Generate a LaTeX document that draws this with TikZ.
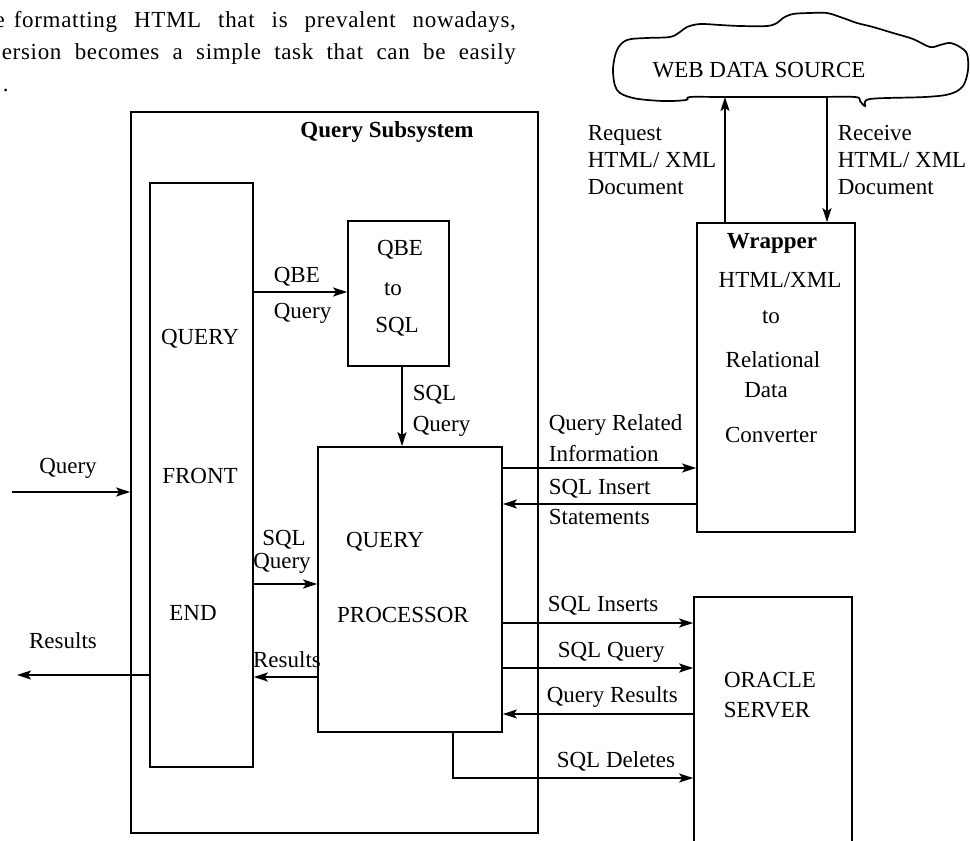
\documentclass[tikz,border=0pt]{standalone}
\usepackage{fontspec}
\setmainfont{Liberation Serif}
\newfontfamily\bodyfont[LetterSpace=3]{Liberation Serif}
\usetikzlibrary{arrows.meta}
\begin{document}
\begin{tikzpicture}[x=1pt,y=-1pt, line width=1.7pt, line join=miter,
  box/.style={draw, rectangle, inner sep=0pt},
  lbl/.style={inner sep=0pt, font=\fontsize{23}{27}\selectfont, align=left},
  bold/.style={inner sep=0pt, font=\fontsize{23}{27}\selectfont\bfseries},
  arr/.style={-{Stealth[length=14pt,width=9pt,inset=3pt]}},
  body/.style={inner sep=0pt, anchor=base west, font=\bodyfont\fontsize{23}{27}\selectfont}]
\useasboundingbox (0,0) rectangle (970,841);
\clip (0,0) rectangle (970,841);

% body text
\node[body] (t1) at (13,27) {\llap{e\hspace{9pt}}\makebox[502pt][s]{formatting HTML that is prevalent nowadays,}};
\node[body] (t2) at (1,59) {\makebox[514pt][s]{ersion becomes a simple task that can be easily}};
\node[body] (t3) at (2,91) {.};

% boxes
\node[box, minimum width=407pt, minimum height=721pt] (outer) at (334.5,472.5) {};
\node[box, minimum width=103pt, minimum height=584pt] (front) at (201.5,475) {};
\node[box, minimum width=101pt, minimum height=145pt] (qbe) at (398.5,293.5) {};
\node[box, minimum width=184pt, minimum height=285pt] (proc) at (410,589.5) {};
\node[box, minimum width=158pt, minimum height=309pt] (wrap) at (776,377.5) {};
\node[box, minimum width=158pt, minimum height=303pt] (oracle) at (773,748.5) {};

% cloud
\draw plot[smooth cycle, tension=0.55] coordinates {(627,40) (647,38) (670,37) (680,32) (687,27) (700,24) (720,25) (740,26) (767,26) (777,23) (783,18) (793,14) (810,13) (827,13) (843,18) (857,23) (873,27) (893,33) (913,39) (930,47) (940,45) (950,43) (960,47) (967,54) (968,70) (963,86) (950,94) (925,97) (870,99) (865,106) (860,101) (855,97) (813,97) (725,97) (690,97) (686,100) (663,101) (633,98) (617,90) (613,70) (617,50)};
\node[lbl] (web) at (759,70) {WEB DATA SOURCE};
\coordinate (cu) at (725,97);
\coordinate (cd) at (827,97);

% labels in boxes
\node[bold] (qs) at (387,132) {Query Subsystem};
\node[lbl] (fe1) at (200,339) {QUERY};
\node[lbl] (fe2) at (200,476) {FRONT};
\node[lbl] (fe3) at (193,613) {END};
\node[lbl] (q1) at (400,250) {QBE};
\node[lbl] (q2) at (393,289) {to};
\node[lbl] (q3) at (397,327) {SQL};
\node[lbl] (p1) at (385,542) {QUERY};
\node[lbl] (p2) at (403,615) {PROCESSOR};
\node[bold] (w1) at (772,243) {Wrapper};
\node[lbl] (w2) at (780,280) {HTML/XML};
\node[lbl] (w3) at (771,317) {to};
\node[lbl] (w4) at (773,360) {Relational};
\node[lbl] (w5) at (766,390) {Data};
\node[lbl] (w6) at (771,435) {Converter};
\node[lbl] (o1) at (770,680) {ORACLE};
\node[lbl] (o2) at (767,710) {SERVER};

% connector labels
\node[lbl, anchor=west] (lq1) at (273,277) {QBE};
\node[lbl, anchor=west] (lq2) at (273,313) {Query};
\node[lbl, anchor=west] (ls1) at (412,395) {SQL};
\node[lbl, anchor=west] (ls2) at (412,426) {Query};
\node[lbl] (lf1) at (284,540) {SQL};
\node[lbl] (lf2) at (282,563) {Query};
\node[lbl] (lr) at (287,660) {Results};
\node[lbl] (lin) at (68,468) {Query};
\node[lbl] (lout) at (63,641) {Results};
\node[lbl, anchor=west] (li1) at (548,425) {Query Related};
\node[lbl, anchor=west] (li2) at (548,454) {Information};
\node[lbl, anchor=west] (li3) at (548,489) {SQL Insert};
\node[lbl, anchor=west] (li4) at (548,517) {Statements};
\node[lbl, anchor=west] (lo1) at (547,606) {SQL Inserts};
\node[lbl, anchor=west] (lo2) at (557,652) {SQL Query};
\node[lbl, anchor=west] (lo3) at (546,697) {Query Results};
\node[lbl, anchor=west] (lo4) at (556,761) {SQL Deletes};
\node[lbl, anchor=west] (lreq) at (587,160) {Request\\HTML/ XML\\Document};
\node[lbl, anchor=west] (lrec) at (837,160) {Receive\\HTML/ XML\\Document};

% helper coordinates
\coordinate (y1) at (0,292);
\coordinate (x1) at (402,0);
\coordinate (y2) at (0,584);
\coordinate (y3) at (0,677);
\coordinate (y4) at (0,492);
\coordinate (y5) at (0,675);
\coordinate (y6) at (0,468);
\coordinate (y7) at (0,504);
\coordinate (y8) at (0,623);
\coordinate (y9) at (0,668);
\coordinate (y10) at (0,714);
\coordinate (y11) at (0,778);
\coordinate (x2) at (453,0);
\coordinate (qin) at (12,492);
\coordinate (rout) at (17,675);
\coordinate (del) at (453,778);

% connectors
\draw[arr] (front.east |- y1) -- (qbe.west |- y1);
\draw[arr] (qbe.south -| x1) -- (proc.north -| x1);
\draw[arr] (front.east |- y2) -- (proc.west |- y2);
\draw[arr] (proc.west |- y3) -- (front.east |- y3);
\draw[arr] (qin) -- (outer.west |- y4);
\draw[arr] (front.west |- y5) -- (rout);
\draw[arr] (proc.east |- y6) -- (wrap.west |- y6);
\draw[arr] (wrap.west |- y7) -- (proc.east |- y7);
\draw[arr] (proc.east |- y8) -- (oracle.west |- y8);
\draw[arr] (proc.east |- y9) -- (oracle.west |- y9);
\draw[arr] (oracle.west |- y10) -- (proc.east |- y10);
\draw[arr] (proc.south -| x2) -- (del) -- (oracle.west |- y11);
\draw[arr] (wrap.north -| cu) -- (cu);
\draw[arr] (cd) -- (wrap.north -| cd);
\end{tikzpicture}
\end{document}
